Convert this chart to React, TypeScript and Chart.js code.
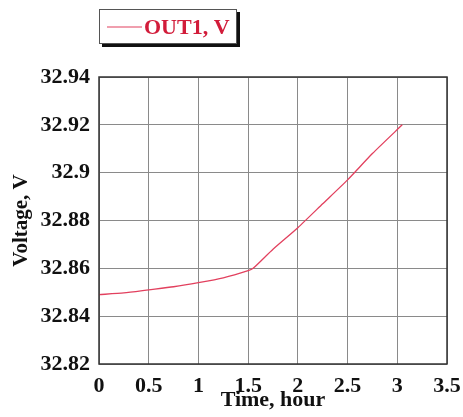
import { useEffect, useRef } from "react";
import { Chart, registerables } from "chart.js";

Chart.register(...registerables);

const timeHours = [0, 0.25, 0.5, 0.75, 1, 1.25, 1.5, 1.55, 1.75, 2, 2.25, 2.5, 2.75, 3.05];
const voltageOut1 = [32.849, 32.8497, 32.851, 32.8523, 32.854, 32.856, 32.859, 32.86, 32.868, 32.877, 32.887, 32.897, 32.908, 32.92];
const seriesLabel = "OUT1, V";
const xAxisTitle = "Time, hour";
const yAxisTitle = "Voltage, V";

const SERIF = "'Liberation Serif', 'Times New Roman', serif";
const LINE_COLOR = "#e2405e";
const LEGEND_TEXT = "#d21c3a";

const legendPlugin = {
  id: "boxLegend",
  afterDraw(chart: any) {
    const ctx = chart.ctx;
    const ds = chart.data.datasets[0];
    ctx.save();
    const x = 99, y = 9, w = 138, h = 35;
    ctx.fillStyle = "#111";
    ctx.fillRect(x + 3, y + 3, w, h);
    ctx.fillStyle = "#fff";
    ctx.fillRect(x, y, w, h);
    ctx.strokeStyle = "#555";
    ctx.lineWidth = 1;
    ctx.strokeRect(x + 0.5, y + 0.5, w - 1, h - 1);
    ctx.strokeStyle = ds.borderColor;
    ctx.lineWidth = 1.2;
    ctx.beginPath();
    ctx.moveTo(x + 8, y + 18);
    ctx.lineTo(x + 43, y + 18);
    ctx.stroke();
    ctx.fillStyle = LEGEND_TEXT;
    ctx.font = `bold 22px ${SERIF}`;
    ctx.textBaseline = "middle";
    ctx.textAlign = "left";
    ctx.fillText(ds.label, x + 45, y + 19);
    ctx.restore();
  },
};

const borderPlugin = {
  id: "plotBorder",
  afterDatasetsDraw(chart: any) {
    const { ctx, chartArea } = chart;
    ctx.save();
    ctx.strokeStyle = "#333";
    ctx.lineWidth = 1.5;
    ctx.strokeRect(chartArea.left, chartArea.top, chartArea.right - chartArea.left, chartArea.bottom - chartArea.top);
    ctx.restore();
  },
};

const fmt = (v: number) => String(parseFloat(Number(v).toFixed(2)));

export default function App() {
  const ref = useRef<HTMLCanvasElement | null>(null);
  useEffect(() => {
    if (!ref.current) return;
    const chart = new Chart(ref.current, {
      type: "line",
      data: {
        datasets: [
          {
            label: seriesLabel,
            data: timeHours.map((t, i) => ({ x: t, y: voltageOut1[i] })),
            borderColor: LINE_COLOR,
            borderWidth: 1.3,
            pointRadius: 0,
            tension: 0.2,
            fill: false,
          },
        ],
      },
      options: {
        animation: false,
        responsive: false,
        layout: { padding: { top: 77, right: 16, left: 0, bottom: 0 } },
        plugins: { legend: { display: false }, tooltip: { enabled: false } },
        scales: {
          x: {
            type: "linear",
            min: 0,
            max: 3.5,
            ticks: {
              stepSize: 0.5,
              color: "#111",
              font: { family: SERIF, size: 22, weight: "bold" },
              padding: 9,
              callback: (v: any) => fmt(v),
              maxRotation: 0,
            },
            grid: { color: "#8a8a8a", lineWidth: 1, drawTicks: false },
            border: { display: false },
            title: {
              display: true,
              text: xAxisTitle,
              color: "#111",
              font: { family: SERIF, size: 22, weight: "bold", lineHeight: 1.2 },
              padding: { top: 0, bottom: 3 },
            },
            afterFit: (s: any) => {
              s.height = 53;
              s.paddingRight = 0;
              s.paddingLeft = 0;
            },
          },
          y: {
            type: "linear",
            min: 32.82,
            max: 32.94,
            ticks: {
              stepSize: 0.02,
              color: "#111",
              font: { family: SERIF, size: 22, weight: "bold" },
              padding: 9,
              callback: (v: any) => fmt(v),
            },
            grid: { color: "#8a8a8a", lineWidth: 1, drawTicks: false },
            border: { display: false },
            title: {
              display: true,
              text: yAxisTitle,
              color: "#111",
              font: { family: SERIF, size: 21, weight: "bold", lineHeight: 1.2 },
              padding: { top: 9, bottom: 0 },
            },
            afterFit: (s: any) => {
              s.width = 99;
              s.paddingTop = 0;
              s.paddingBottom = 0;
            },
          },
        },
      },
      plugins: [legendPlugin, borderPlugin],
    });
    return () => chart.destroy();
  }, []);
  return (
    <div style={{ position: "fixed", left: 0, top: 0, width: 463, height: 417, background: "#fff" }}>
      <canvas ref={ref} width={463} height={417} style={{ width: 463, height: 417, display: "block" }} />
    </div>
  );
}
